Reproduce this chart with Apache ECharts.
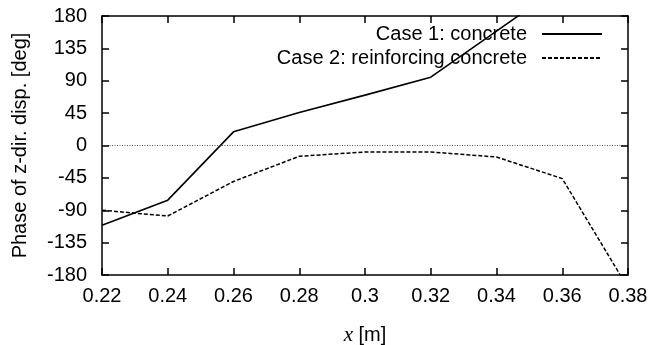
<!DOCTYPE html>
<html>
<head>
<meta charset="utf-8">
<script src="https://cdn.jsdelivr.net/npm/echarts@6/dist/echarts.min.js"></script>
<style>
  html, body { margin: 0; padding: 0; background: #fff; }
  #chart { width: 669px; height: 345px; }
</style>
</head>
<body>
<div id="chart"></div>
<script>
// values
const xValues = [0.22, 0.24, 0.26, 0.28, 0.30, 0.32, 0.34, 0.36, 0.38];
const case1 = [-111, -76, 19, 46, 70, 95, 159, 223, null];
const case2 = [-90, -98, -50, -15, -9, -9, -16, -46, -198];
const seriesNames = ["Case 1: concrete", "Case 2: reinforcing concrete"];

const font = "'Liberation Sans', Arial, sans-serif";

const pairs = (ys) => xValues.map((x, i) => [x, ys[i]]).filter((p) => p[1] !== null);

const chart = echarts.init(document.getElementById("chart"));

chart.setOption({
  animation: false,
  grid: { left: 102, right: 41, top: 16, bottom: 70, outerBoundsMode: "none" },
  legend: {
    orient: "vertical",
    right: 61,
    top: 19,
    align: "right",
    itemWidth: 60,
    itemHeight: 14,
    itemGap: 4,
    data: seriesNames,
    itemStyle: { opacity: 0 },
    textStyle: { fontSize: 20, color: "#000", fontFamily: font, padding: [0, 10, 0, 0] },
  },
  xAxis: [
    { type: "value", min: 0.22, max: 0.38, interval: 0.02, position: "bottom", z: 10,
      axisLine: { show: true, onZero: false, lineStyle: { color: "#000", width: 1.5 } },
      axisTick: { show: true, inside: true, length: 7, lineStyle: { color: "#000", width: 1.5 } },
      splitLine: { show: false },
      axisLabel: {
        fontSize: 20, color: "#000", margin: 11, fontFamily: font,
        formatter: (v) => String(parseFloat(v.toFixed(2))),
      },
      name: "{i|x} [m]",
      nameLocation: "middle",
      nameGap: 50,
      nameTextStyle: {
        fontSize: 20, color: "#000", fontFamily: font,
        rich: { i: { fontFamily: "'Liberation Serif', serif", fontStyle: "italic", fontSize: 21, color: "#000" } },
      } },
    { type: "value", min: 0.22, max: 0.38, interval: 0.02, position: "top", z: 10,
      axisLine: { show: true, onZero: false, lineStyle: { color: "#000", width: 1.5 } },
      axisTick: { show: true, inside: true, length: 7, lineStyle: { color: "#000", width: 1.5 } },
      axisLabel: { color: "transparent" },
      splitLine: { show: false } }
  ],
  yAxis: [
    { type: "value", min: -180, max: 180, interval: 45, position: "left", z: 10,
      axisLine: { show: true, onZero: false, lineStyle: { color: "#000", width: 1.5 } },
      axisTick: { show: true, inside: true, length: 7, lineStyle: { color: "#000", width: 1.5 } },
      splitLine: { show: false },
      axisLabel: { fontSize: 20, color: "#000", margin: 15, fontFamily: font },
      name: "Phase of z-dir. disp. [deg]",
      nameLocation: "middle",
      nameGap: 72,
      nameTextStyle: { fontSize: 20, color: "#000", fontFamily: font } },
    { type: "value", min: -180, max: 180, interval: 45, position: "right", z: 10,
      axisLine: { show: true, onZero: false, lineStyle: { color: "#000", width: 1.5 } },
      axisTick: { show: true, inside: true, length: 7, lineStyle: { color: "#000", width: 1.5 } },
      axisLabel: { color: "transparent" },
      splitLine: { show: false } }
  ],
  series: [
    {
      name: seriesNames[0],
      type: "line",
      data: pairs(case1),
      symbol: "none",
      lineStyle: { color: "#000", width: 1.6, type: "solid" },
      itemStyle: { color: "#000" },
      markLine: {
        silent: true,
        symbol: "none",
        label: { show: false },
        lineStyle: { color: "#555", width: 1, type: [1, 1.5] },
        data: [{ yAxis: 0 }],
      },
    },
    {
      name: seriesNames[1],
      type: "line",
      data: pairs(case2),
      symbol: "none",
      lineStyle: { color: "#000", width: 1.5, type: [4, 2] },
      itemStyle: { color: "#000" },
    },
  ],
});
</script>
</body>
</html>
